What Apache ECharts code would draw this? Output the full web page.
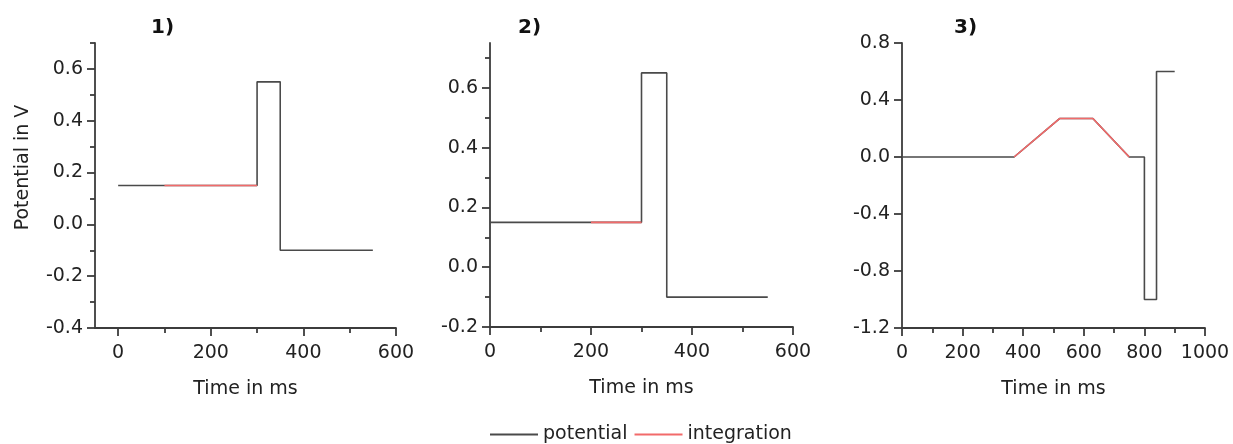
<!DOCTYPE html>
<html>
<head>
<meta charset="utf-8">
<script src="https://cdn.jsdelivr.net/npm/echarts@6/dist/echarts.min.js"></script>
<style>
  html, body { margin: 0; padding: 0; background: #fff; }
  #main { width: 1233px; height: 444px; }
</style>
</head>
<body>
<div id="main"></div>
<script>
// panel 1) potential step
var time1 = [0, 300, 300, 350, 350, 550];
var pot1 = [0.15, 0.15, 0.55, 0.55, -0.1, -0.1];
var timeInt1 = [100, 300];
var potInt1 = [0.15, 0.15];

// panel 2)
var time2 = [0, 300, 300, 350, 350, 550];
var pot2 = [0.15, 0.15, 0.65, 0.65, -0.1, -0.1];
var timeInt2 = [200, 300];
var potInt2 = [0.15, 0.15];

// panel 3) ramp + pulse
var time3 = [0, 370, 520, 630, 750, 800, 800, 840, 840, 900];
var pot3 = [0, 0, 0.27, 0.27, 0, 0, -1.0, -1.0, 0.6, 0.6];
var timeInt3 = [370, 520, 630, 750];
var potInt3 = [0, 0.27, 0.27, 0];

// tick labels
var xTicks12 = [0, 200, 400, 600];
var xMinor12 = [100, 300, 500];
var xTicks3 = [0, 200, 400, 600, 800, 1000];
var xMinor3 = [100, 300, 500, 700, 900];
var yTicks1 = [-0.4, -0.2, 0, 0.2, 0.4, 0.6];
var yMinor1 = [-0.3, -0.1, 0.1, 0.3, 0.5, 0.7];
var yTicks2 = [-0.2, 0, 0.2, 0.4, 0.6];
var yMinor2 = [-0.1, 0.1, 0.3, 0.5, 0.7];
var yTicks3 = [-1.2, -0.8, -0.4, 0, 0.4, 0.8];
var yMinor3 = [];
var titles = ['1)', '2)', '3)'];

var FONT = 'DejaVu Sans';
var AXIS_COL = '#3c3c3c';
var TXT_COL = '#222';
var POT_COL = '#4a4a4a';
var INT_COL = '#f26a6a';

function zip(a, b) {
  var out = [];
  for (var i = 0; i < a.length; i++) out.push([a[i], b[i]]);
  return out;
}

var panels = [
  { grid: { left: 95, top: 43, width: 301, height: 285 }, xMin: -50, xMax: 600, yMin: -0.4, yMax: 0.7,
    xt: xTicks12, xm: xMinor12, yt: yTicks1, ym: yMinor1, yName: 'Potential in V',
    pot: zip(time1, pot1), integ: zip(timeInt1, potInt1), tx: 146 },
  { grid: { left: 490, top: 43, width: 303, height: 284 }, xMin: 0, xMax: 600, yMin: -0.2, yMax: 0.75,
    xt: xTicks12, xm: xMinor12, yt: yTicks2, ym: yMinor2, yName: '',
    pot: zip(time2, pot2), integ: zip(timeInt2, potInt2), tx: 513 },
  { grid: { left: 902, top: 43, width: 303, height: 285 }, xMin: 0, xMax: 1000, yMin: -1.2, yMax: 0.8,
    xt: xTicks3, xm: xMinor3, yt: yTicks3, ym: yMinor3, yName: '',
    pot: zip(time3, pot3), integ: zip(timeInt3, potInt3), tx: 949 }
];

var grids = [], xAxes = [], yAxes = [], series = [], titleList = [];

panels.forEach(function (p, i) {
  grids.push(p.grid);
  // main x axis
  xAxes.push({
    type: 'value', gridIndex: i, min: p.xMin, max: p.xMax, position: 'bottom',
    name: 'Time in ms', nameLocation: 'middle', nameGap: 52,
    nameTextStyle: { fontFamily: FONT, fontSize: 19, color: TXT_COL },
    axisLine: { show: true, onZero: false, lineStyle: { color: AXIS_COL, width: 1.8 } },
    axisTick: { show: true, length: 8, customValues: p.xt, lineStyle: { color: AXIS_COL, width: 1.8 } },
    axisLabel: { customValues: p.xt, margin: 16, fontFamily: FONT, fontSize: 19, color: TXT_COL,
      formatter: function (v) { return String(v); } },
    splitLine: { show: false }
  });
  // minor x ticks
  xAxes.push({
    type: 'value', gridIndex: i, min: p.xMin, max: p.xMax, position: 'bottom',
    axisLine: { show: false, onZero: false },
    axisTick: { show: true, length: 5, customValues: p.xm, lineStyle: { color: AXIS_COL, width: 1.8 } },
    axisLabel: { show: false },
    splitLine: { show: false }
  });
  yAxes.push({
    type: 'value', gridIndex: i, min: p.yMin, max: p.yMax, position: 'left',
    name: p.yName, nameLocation: 'middle', nameGap: 62,
    nameTextStyle: { fontFamily: FONT, fontSize: 19, color: TXT_COL, padding: [0, 0, 0, 36] },
    axisLine: { show: true, onZero: false, lineStyle: { color: AXIS_COL, width: 1.8 } },
    axisTick: { show: true, length: 8, customValues: p.yt, lineStyle: { color: AXIS_COL, width: 1.8 } },
    axisLabel: { customValues: p.yt, margin: 12, fontFamily: FONT, fontSize: 19, color: TXT_COL,
      formatter: function (v) { return v.toFixed(1); } },
    splitLine: { show: false }
  });
  yAxes.push({
    type: 'value', gridIndex: i, min: p.yMin, max: p.yMax, position: 'left',
    axisLine: { show: false, onZero: false },
    axisTick: { show: p.ym.length > 0, length: 5, customValues: p.ym, lineStyle: { color: AXIS_COL, width: 1.8 } },
    axisLabel: { show: false },
    splitLine: { show: false }
  });
  series.push({
    name: 'potential', type: 'line', xAxisIndex: 2 * i, yAxisIndex: 2 * i,
    data: p.pot, symbol: 'none', lineStyle: { color: POT_COL, width: 1.6 },
    itemStyle: { color: POT_COL }, animation: false, silent: true
  });
  series.push({
    name: 'integration', type: 'line', xAxisIndex: 2 * i, yAxisIndex: 2 * i,
    data: p.integ, symbol: 'none', lineStyle: { color: INT_COL, width: 1.6 },
    itemStyle: { color: INT_COL }, animation: false, silent: true, z: 3
  });
  titleList.push({
    text: titles[i], left: p.tx, top: 13,
    textStyle: { fontFamily: FONT, fontSize: 20, fontWeight: 'bold', color: '#111' }
  });
});

var chart = echarts.init(document.getElementById('main'));
chart.setOption({
  backgroundColor: '#fff',
  animation: false,
  title: titleList,
  grid: grids,
  xAxis: xAxes,
  yAxis: yAxes,
  legend: {
    data: ['potential', 'integration'],
    icon: 'rect',
    left: 485, top: 420,
    itemWidth: 48, itemHeight: 2, itemGap: 7,
    textStyle: { fontFamily: FONT, fontSize: 19, color: TXT_COL }
  },
  series: series
});
</script>
</body>
</html>
